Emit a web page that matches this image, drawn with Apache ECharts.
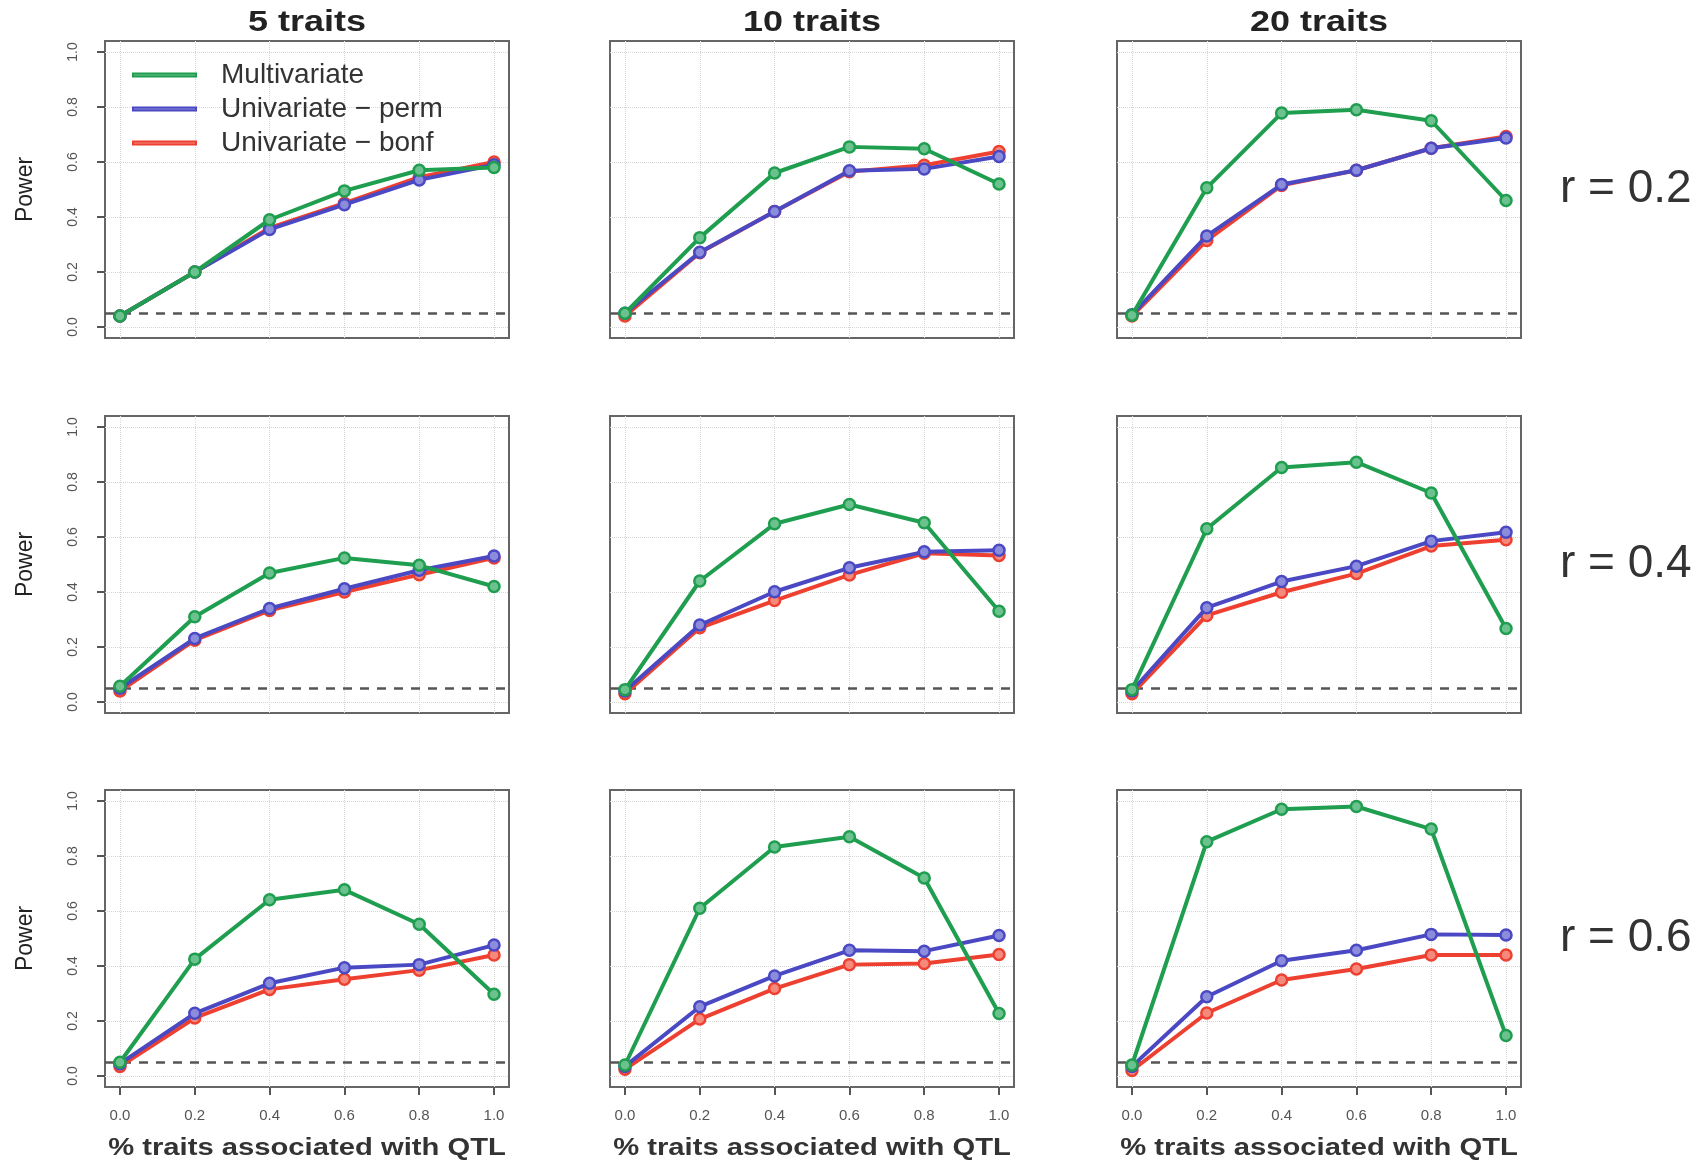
<!DOCTYPE html>
<html><head><meta charset="utf-8">
<script src="https://cdn.jsdelivr.net/npm/echarts@6/dist/echarts.min.js"></script>
<style>html,body{margin:0;padding:0;background:#fff}#c{width:1703px;height:1163px}</style>
</head><body><div id="c"></div>
<script>
// ---------- data ----------
const xValues = [0, 0.2, 0.4, 0.6, 0.8, 1.0];
const tickValues = [0, 0.2, 0.4, 0.6, 0.8, 1.0];
const traitTitles = ['5 traits', '10 traits', '20 traits'];
const rLabels = ['r = 0.2', 'r = 0.4', 'r = 0.6'];
const seriesNames = ['Multivariate', 'Univariate \u2212 perm', 'Univariate \u2212 bonf'];
const alphaLevel = 0.05;
const xTitle = '% traits associated with QTL';
const yTitle = 'Power';

// r = 0.2
const multi_r02_t5  = [0.040, 0.200, 0.390, 0.495, 0.570, 0.580];
const perm_r02_t5   = [0.040, 0.200, 0.355, 0.445, 0.535, 0.590];
const bonf_r02_t5   = [0.040, 0.200, 0.360, 0.450, 0.545, 0.600];
const multi_r02_t10 = [0.050, 0.325, 0.560, 0.655, 0.648, 0.520];
const perm_r02_t10  = [0.050, 0.272, 0.420, 0.568, 0.575, 0.620];
const bonf_r02_t10  = [0.040, 0.270, 0.420, 0.565, 0.588, 0.638];
const multi_r02_t20 = [0.043, 0.506, 0.778, 0.790, 0.750, 0.460];
const perm_r02_t20  = [0.045, 0.331, 0.518, 0.570, 0.650, 0.687];
const bonf_r02_t20  = [0.040, 0.315, 0.515, 0.570, 0.650, 0.693];
// r = 0.4
const multi_r04_t5  = [0.057, 0.310, 0.469, 0.524, 0.497, 0.420];
const perm_r04_t5   = [0.050, 0.231, 0.340, 0.412, 0.479, 0.531];
const bonf_r04_t5   = [0.040, 0.225, 0.333, 0.400, 0.463, 0.524];
const multi_r04_t10 = [0.045, 0.440, 0.648, 0.718, 0.652, 0.330];
const perm_r04_t10  = [0.040, 0.280, 0.401, 0.488, 0.546, 0.552];
const bonf_r04_t10  = [0.030, 0.270, 0.369, 0.462, 0.541, 0.533];
const multi_r04_t20 = [0.045, 0.630, 0.853, 0.872, 0.760, 0.267];
const perm_r04_t20  = [0.040, 0.343, 0.438, 0.494, 0.585, 0.617];
const bonf_r04_t20  = [0.030, 0.315, 0.399, 0.467, 0.567, 0.590];
// r = 0.6
const multi_r06_t5  = [0.050, 0.425, 0.641, 0.677, 0.552, 0.297];
const perm_r06_t5   = [0.045, 0.228, 0.337, 0.394, 0.405, 0.476];
const bonf_r06_t5   = [0.035, 0.211, 0.315, 0.352, 0.385, 0.440];
const multi_r06_t10 = [0.040, 0.610, 0.833, 0.870, 0.720, 0.227];
const perm_r06_t10  = [0.035, 0.252, 0.364, 0.457, 0.454, 0.511];
const bonf_r06_t10  = [0.025, 0.207, 0.318, 0.405, 0.409, 0.442];
const multi_r06_t20 = [0.040, 0.852, 0.970, 0.980, 0.898, 0.147];
const perm_r06_t20  = [0.035, 0.288, 0.419, 0.457, 0.515, 0.513];
const bonf_r06_t20  = [0.020, 0.229, 0.349, 0.389, 0.440, 0.440];

const panels = [
  [[multi_r02_t5, perm_r02_t5, bonf_r02_t5], [multi_r02_t10, perm_r02_t10, bonf_r02_t10], [multi_r02_t20, perm_r02_t20, bonf_r02_t20]],
  [[multi_r04_t5, perm_r04_t5, bonf_r04_t5], [multi_r04_t10, perm_r04_t10, bonf_r04_t10], [multi_r04_t20, perm_r04_t20, bonf_r04_t20]],
  [[multi_r06_t5, perm_r06_t5, bonf_r06_t5], [multi_r06_t10, perm_r06_t10, bonf_r06_t10], [multi_r06_t20, perm_r06_t20, bonf_r06_t20]]
];

// ---------- layout & style ----------
const FONT = '"Liberation Sans", Arial, Helvetica, sans-serif';
const colLeft = [105, 610, 1117];
const rowTop = [41, 416, 790];
const boxW = 404, boxH = 297;
const lineColors = ['#1f9e4f', '#4a48c2', '#ee4030'];
const fillColors = ['#6cc28e', '#8c8cdc', '#f58a7c'];

const grids = [], xAxes = [], yAxes = [], series = [];
let idx = 0;
for (let r = 0; r < 3; r++) {
  for (let c = 0; c < 3; c++) {
    grids.push({ left: colLeft[c], top: rowTop[r], width: boxW, height: boxH,
      show: true, borderColor: '#666', borderWidth: 2, backgroundColor: 'transparent' });
    const bottomRow = r === 2, firstCol = c === 0;
    xAxes.push({
      gridIndex: idx, type: 'value', min: -0.04, max: 1.04, position: 'bottom',
      axisLine: { show: false, onZero: false },
      axisTick: { show: bottomRow, length: 8, customValues: tickValues, lineStyle: { color: '#555', width: 2 } },
      axisLabel: { show: bottomRow, customValues: tickValues, margin: 21, fontSize: 15, color: '#555', fontFamily: FONT,
        formatter: v => v.toFixed(1) },
      splitLine: { show: true, lineStyle: { color: '#d6d6d6', type: 'dotted', width: 1 } }
    });
    yAxes.push({
      gridIndex: idx, type: 'value', min: -0.04, max: 1.04,
      axisLine: { show: false, onZero: false },
      axisTick: { show: firstCol, length: 8, customValues: tickValues, lineStyle: { color: '#555', width: 2 } },
      axisLabel: { show: firstCol, customValues: tickValues, rotate: 90, margin: 25, fontSize: 14, color: '#555', fontFamily: FONT,
        formatter: v => v.toFixed(1) },
      splitLine: { show: true, lineStyle: { color: '#d6d6d6', type: 'dotted', width: 1 } },
      name: firstCol ? yTitle : '', nameLocation: 'middle', nameGap: 68, nameRotate: 90,
      nameTextStyle: { fontSize: 23, color: '#222', fontFamily: FONT }
    });
    // draw order: bonf, perm, multi (multi on top)
    for (const s of [2, 1, 0]) {
      const ser = {
        name: seriesNames[s], type: 'line', xAxisIndex: idx, yAxisIndex: idx,
        data: xValues.map((x, i) => [x, panels[r][c][s][i]]),
        symbol: 'circle', symbolSize: 11, showSymbol: true,
        lineStyle: { color: lineColors[s], width: 4 },
        itemStyle: { color: fillColors[s], borderColor: lineColors[s], borderWidth: 2.5 },
        emphasis: { disabled: true }, animation: false, z: 3 + (2 - s)
      };
      if (s === 2) {
        ser.markLine = { silent: true, symbol: 'none', label: { show: false },
          lineStyle: { color: '#555', type: [9, 8], width: 2.5 },
          data: [{ yAxis: alphaLevel }], z: 2 };
      }
      series.push(ser);
    }
    idx++;
  }
}

const graphics = [];
for (let c = 0; c < 3; c++) {
  graphics.push({ type: 'text', x: colLeft[c] + boxW / 2, y: 23, scaleX: 1.2,
    style: { text: traitTitles[c], font: 'bold 30px ' + FONT, fill: '#222', align: 'center', verticalAlign: 'middle' } });
  graphics.push({ type: 'text', x: colLeft[c] + boxW / 2, y: 1149, scaleX: 1.27,
    style: { text: xTitle, font: 'bold 23px ' + FONT, fill: '#333', align: 'center', verticalAlign: 'middle' } });
}
for (let r = 0; r < 3; r++) {
  graphics.push({ type: 'text', x: 1560, y: rowTop[r] + boxH / 2,
    style: { text: rLabels[r], font: '46px ' + FONT, fill: '#333', align: 'left', verticalAlign: 'middle' } });
}

const chart = echarts.init(document.getElementById('c'), null, { renderer: 'canvas' });
chart.setOption({
  backgroundColor: '#fff',
  animation: false,
  grid: grids, xAxis: xAxes, yAxis: yAxes, series: series,
  legend: {
    data: seriesNames, orient: 'vertical', left: 127, top: 56,
    icon: 'rect', itemWidth: 63, itemHeight: 3, itemGap: 6,
    selectedMode: false,
    textStyle: { fontSize: 28, lineHeight: 28, color: '#333', fontFamily: FONT, padding: [0, 0, 0, 20] }
  },
  graphic: graphics
});
</script></body></html>
